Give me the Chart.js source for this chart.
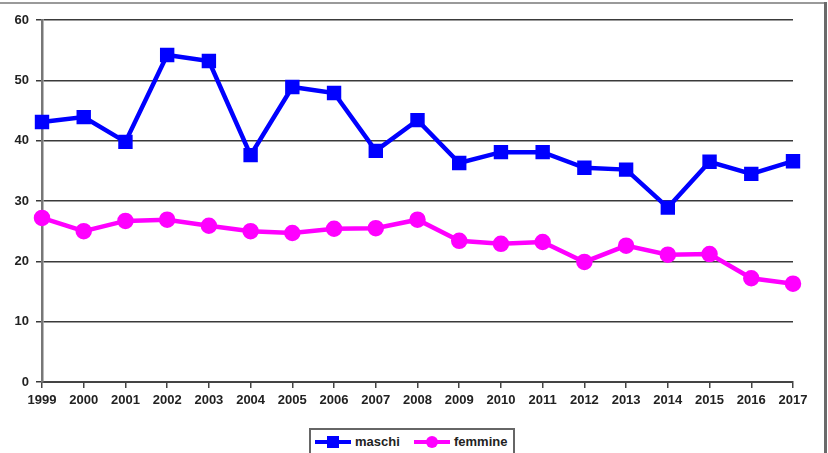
<!DOCTYPE html>
<html>
<head>
<meta charset="utf-8">
<script src="https://cdn.jsdelivr.net/npm/chart.js@4.4.1/dist/chart.umd.min.js"></script>
<style>
  html, body { margin: 0; padding: 0; background: #fff; }
  #wrap { position: relative; width: 828px; height: 453px; overflow: hidden; }
  #frameTop { position: absolute; left: 0; top: 2px; width: 826px; height: 0; border-top: 2px solid #9a9a9a; }
  #frameRight { position: absolute; left: 824px; top: 2px; width: 0; height: 451px; border-left: 3px solid #6a6a6a; }
  #legenda {
    position: absolute; left: 309px; top: 428px; width: 206px; height: 30px;
    border: 2px solid #666; box-sizing: border-box; background: #fff;
    font: bold 13px "Liberation Sans", Arial, sans-serif; color: #222;
  }
  .voce { position: absolute; top: 4px; height: 16px; line-height: 16px; }
  .campione { position: absolute; top: 6px; width: 36px; height: 4px; }
  .marker { position: absolute; top: -4px; left: 12px; width: 12px; height: 12px; }
  .testo { position: absolute; left: 40px; top: 0; white-space: nowrap; }
  canvas { position: absolute; left: 0; top: 0; }
</style>
</head>
<body>
<div id="wrap">
  <canvas id="grafico" width="828" height="453"></canvas>
  <div id="frameTop"></div>
  <div id="frameRight"></div>
  <div id="legenda"></div>
</div>
<script>
  const anni = ["1999", "2000", "2001", "2002", "2003", "2004", "2005", "2006", "2007", "2008",
    "2009", "2010", "2011", "2012", "2013", "2014", "2015", "2016", "2017"];
  const maschi = [43.1, 43.9, 39.8, 54.2, 53.2, 37.6, 48.9, 47.9, 38.3, 43.4,
    36.3, 38.1, 38.1, 35.5, 35.2, 28.9, 36.5, 34.5, 36.6];
  const femmine = [27.2, 25.0, 26.7, 26.9, 25.9, 25.0, 24.7, 25.4, 25.5, 26.9,
    23.4, 22.9, 23.2, 19.9, 22.6, 21.1, 21.2, 17.2, 16.3];
  const yTicks = [0, 10, 20, 30, 40, 50, 60];

  const BLU = "#0000ff";
  const MAGENTA = "#ff00ff";
  const fontTick = { family: "'Liberation Sans', Arial, sans-serif", size: 13, weight: "bold" };

  const ctx = document.getElementById("grafico").getContext("2d");

  const chart = new Chart(ctx, {
    type: "line",
    data: {
      labels: anni,
      datasets: [
        {
          label: "maschi",
          data: maschi,
          borderColor: BLU,
          backgroundColor: BLU,
          borderWidth: 4.5,
          pointStyle: "rect",
          pointRadius: 7,
          pointHoverRadius: 7,
          tension: 0
        },
        {
          label: "femmine",
          data: femmine,
          borderColor: MAGENTA,
          backgroundColor: MAGENTA,
          borderWidth: 4.5,
          pointStyle: "circle",
          pointRadius: 6,
          pointHoverRadius: 6,
          tension: 0
        }
      ]
    },
    options: {
      responsive: false,
      animation: false,
      layout: { padding: { left: 0, right: 35, top: 20, bottom: 0 } },
      plugins: {
        legend: { display: false },
        tooltip: { enabled: false }
      },
      scales: {
        x: {
          offset: false,
          grid: {
            drawOnChartArea: false,
            drawTicks: true,
            tickLength: 6,
            color: "#444",
            lineWidth: 1.5
          },
          border: { color: "#444", width: 2 },
          ticks: {
            color: "#222",
            font: fontTick,
            maxRotation: 0,
            autoSkip: false,
            padding: 5
          },
          afterFit: (scale) => { scale.height = 71; }
        },
        y: {
          min: 0,
          max: 60,
          afterBuildTicks: (scale) => { scale.ticks = yTicks.map(v => ({ value: v })); },
          grid: {
            color: "#3a3a3a",
            lineWidth: 1.5,
            tickLength: 6
          },
          border: { color: "#777", width: 2.5 },
          ticks: {
            color: "#222",
            font: fontTick,
            padding: 7
          },
          afterFit: (scale) => { scale.width = 42; }
        }
      }
    }
  });

  // legenda costruita dai dataset
  const legenda = document.getElementById("legenda");
  const posizioni = [4, 103];
  chart.data.datasets.forEach((ds, i) => {
    const voce = document.createElement("div");
    voce.className = "voce";
    voce.style.left = posizioni[i] + "px";
    const campione = document.createElement("div");
    campione.className = "campione";
    campione.style.background = ds.borderColor;
    const marker = document.createElement("div");
    marker.className = "marker";
    marker.style.background = ds.borderColor;
    if (ds.pointStyle === "circle") marker.style.borderRadius = "50%";
    campione.appendChild(marker);
    const testo = document.createElement("span");
    testo.className = "testo";
    testo.textContent = ds.label;
    voce.appendChild(campione);
    voce.appendChild(testo);
    legenda.appendChild(voce);
  });
</script>
</body>
</html>
